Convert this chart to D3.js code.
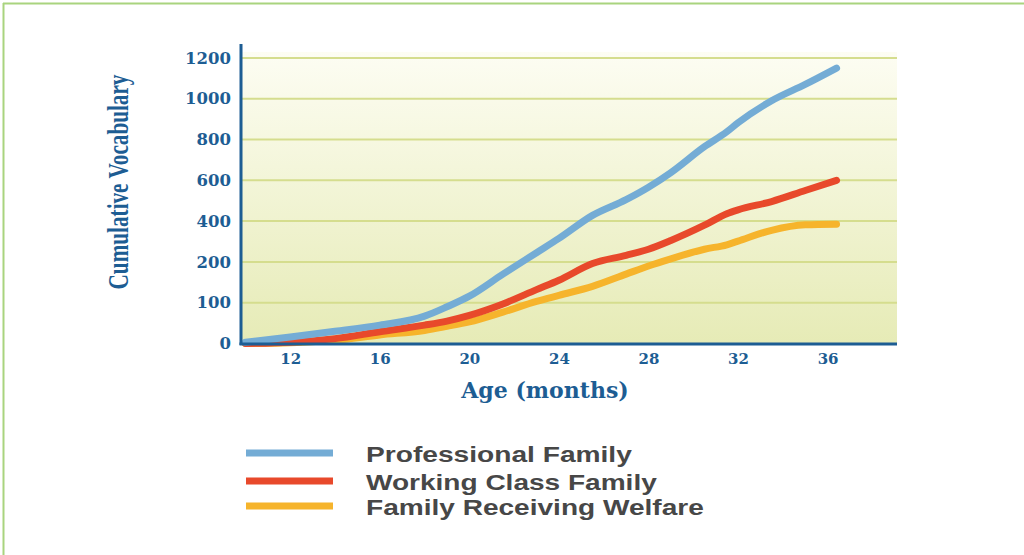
<!DOCTYPE html>
<html>
<head>
<meta charset="utf-8">
<script src="https://cdn.jsdelivr.net/npm/d3@7"></script>
<style>
  html, body { margin: 0; padding: 0; background: #ffffff; }
  svg { display: block; }
</style>
</head>
<body>
<svg id="chart" width="1024" height="555"></svg>
<script>
// Age in months at which vocabulary was sampled
const months = [10, 12, 14, 16, 18, 19, 20, 21.5, 23, 24, 25.5, 27, 28, 29, 30.5, 31.5, 32, 33.5, 35, 36.4];

// Cumulative vocabulary by family type
const professional = [3, 16, 30, 45, 67, 90, 116, 170, 245, 315, 428, 505, 566, 638, 765, 838, 882, 990, 1070, 1150];
const workingClass = [0, 3, 12, 29, 45, 55, 69, 97, 132, 155, 196, 232, 262, 305, 380, 436, 455, 496, 550, 600];
const welfare      = [0, 2, 8, 21, 32, 42, 53, 77, 103, 118, 140, 170, 190, 215, 262, 284, 302, 355, 382, 385];

// Axis tick labels (value axis uses evenly spaced, non-uniform steps)
const yTicks = [0, 100, 200, 400, 600, 800, 1000, 1200];
const xTicks = [12, 16, 20, 24, 28, 32, 36];

const seriesNames = ["Professional Family", "Working Class Family", "Family Receiving Welfare"];
const seriesValues = [professional, workingClass, welfare];
const seriesColors = ["#74acd5", "#e8492b", "#f6b42c"];

const svg = d3.select("#chart");

// outer frame lines (top and left)
svg.append("line").attr("x1", 3).attr("x2", 1024).attr("y1", 3.5).attr("y2", 3.5)
  .attr("stroke", "#a9d47e").attr("stroke-width", 2);
svg.append("line").attr("x1", 3.5).attr("x2", 3.5).attr("y1", 3).attr("y2", 555)
  .attr("stroke", "#a9d47e").attr("stroke-width", 2);

const plot = { left: 241, right: 897, bottom: 343.5, step: 40.8 };

const x = d3.scaleLinear().domain([9.8, 39.1]).range([plot.left, plot.right]);
// piecewise scale: each labelled tick sits one step above the previous one
const y = d3.scaleLinear()
  .domain(yTicks)
  .range(yTicks.map((d, i) => plot.bottom - i * plot.step));

// plot background gradient
const defs = svg.append("defs");
const grad = defs.append("linearGradient").attr("id", "bg").attr("x1", 0).attr("y1", 0).attr("x2", 0).attr("y2", 1);
grad.append("stop").attr("offset", "0%").attr("stop-color", "#fdfdf3");
grad.append("stop").attr("offset", "100%").attr("stop-color", "#e6ebb6");

svg.append("rect")
  .attr("x", plot.left).attr("y", y(1200) - 6)
  .attr("width", plot.right - plot.left).attr("height", plot.bottom - y(1200) + 6)
  .attr("fill", "url(#bg)");

// horizontal gridlines
svg.append("g").selectAll("line")
  .data(yTicks.filter(d => d > 0))
  .join("line")
  .attr("x1", plot.left).attr("x2", plot.right)
  .attr("y1", d => y(d)).attr("y2", d => y(d))
  .attr("stroke", "#d5dd8e").attr("stroke-width", 2);

// series lines
const line = d3.line()
  .x((d, i) => x(months[i]))
  .y(d => y(d))
  .curve(d3.curveMonotoneX);

// draw lower series first so the top one overlaps
[2, 1, 0].forEach(k => {
  svg.append("path")
    .datum(seriesValues[k])
    .attr("d", line)
    .attr("fill", "none")
    .attr("stroke", seriesColors[k])
    .attr("stroke-width", 7)
    .attr("stroke-linecap", "round")
    .attr("stroke-linejoin", "round");
});

const axisColor = "#1d5d93";
const labelFont = "'DejaVu Serif', serif";

// axis lines
svg.append("line").attr("x1", plot.left).attr("x2", plot.left)
  .attr("y1", 44).attr("y2", plot.bottom + 1.5)
  .attr("stroke", axisColor).attr("stroke-width", 3);
svg.append("line").attr("x1", plot.left - 1.5).attr("x2", plot.right)
  .attr("y1", plot.bottom + 0.5).attr("y2", plot.bottom + 0.5)
  .attr("stroke", axisColor).attr("stroke-width", 3);

// y axis labels
const yAxis = svg.append("g")
  .attr("transform", `translate(${plot.left - 10},0)`)
  .call(d3.axisLeft(y).tickValues(yTicks).tickSize(0).tickPadding(0).tickFormat(d3.format("d")));
yAxis.select(".domain").remove();
yAxis.selectAll("text")
  .attr("fill", axisColor)
  .style("font-family", labelFont)
  .style("font-weight", "bold")
  .style("font-size", "16.5px");

// x axis labels
const xAxis = svg.append("g")
  .attr("transform", `translate(0,${plot.bottom + 10})`)
  .call(d3.axisBottom(x).tickValues(xTicks).tickSize(0).tickPadding(0));
xAxis.select(".domain").remove();
xAxis.selectAll("text")
  .attr("fill", axisColor)
  .style("font-family", labelFont)
  .style("font-weight", "bold")
  .style("font-size", "15px");

// axis titles
svg.append("text")
  .attr("x", 545).attr("y", 398)
  .attr("text-anchor", "middle")
  .attr("fill", axisColor)
  .style("font-family", labelFont)
  .style("font-weight", "bold")
  .style("font-size", "22px")
  .text("Age (months)");

// condensed, tall vertical title: measure, then squeeze along the text direction
const yTitle = svg.append("text")
  .attr("text-anchor", "middle")
  .attr("fill", axisColor)
  .style("font-family", "'Liberation Serif', serif")
  .style("font-weight", "bold")
  .style("font-size", "30px")
  .text("Cumulative Vocabulary");
const titleLen = yTitle.node().getComputedTextLength();
yTitle.attr("transform", `translate(128,182) rotate(-90) scale(${215 / titleLen},1)`);

// legend
const legend = svg.append("g");
const legendY = [453, 481, 506];
const legendWidths = [266, 291, 338];
seriesNames.forEach((name, i) => {
  legend.append("line")
    .attr("x1", 246).attr("x2", 333)
    .attr("y1", legendY[i]).attr("y2", legendY[i])
    .attr("stroke", seriesColors[i]).attr("stroke-width", 7);
  const t = legend.append("text")
    .attr("y", legendY[i] + 1)
    .attr("dy", "0.36em")
    .attr("fill", "#474747")
    .style("font-family", "'Liberation Sans', Arial, sans-serif")
    .style("font-weight", "bold")
    .style("font-size", "22px")
    .text(name);
  const len = t.node().getComputedTextLength();
  t.attr("transform", `translate(366,0) scale(${legendWidths[i] / len},1)`);
});
</script>
</body>
</html>
